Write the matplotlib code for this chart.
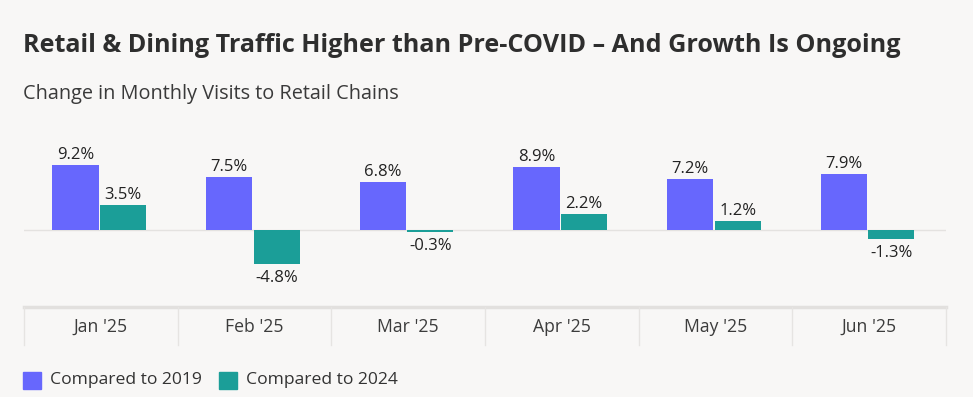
import numpy as np
import matplotlib
matplotlib.use("Agg")
from matplotlib import pyplot as plt
from matplotlib.patches import Rectangle

plt.rcParams['font.family'] = ['Open Sans', 'DejaVu Sans']

# data
months = ["Jan '25", "Feb '25", "Mar '25", "Apr '25", "May '25", "Jun '25"]
vs_2019 = [9.2, 7.5, 6.8, 8.9, 7.2, 7.9]
vs_2024 = [3.5, -4.8, -0.3, 2.2, 1.2, -1.3]
series_names = ["Compared to 2019", "Compared to 2024"]

c_purple = '#6767fd'
c_teal = '#1b9e98'
bg = '#f8f7f6'

W, H = 973, 397
fig = plt.figure(figsize=(W / 100, H / 100), dpi=100, facecolor=bg)

def fx(px):
    return px / W

def fy(py):
    return 1 - py / H

# title / subtitle
fig.text(fx(23), fy(45), "Retail & Dining Traffic Higher than Pre-COVID \u2013 And Growth Is Ongoing",
         fontsize=18.1, fontweight='bold', color='#2e2e2e', va='center', ha='left')
fig.text(fx(23), fy(94), "Change in Monthly Visits to Retail Chains",
         fontsize=14.3, color='#3a3a3a', va='center', ha='left')

# main bars
ax = fig.add_axes([fx(24), fy(307), fx(946) - fx(24), fy(140) - fy(307)])
ax.set_facecolor(bg)
x = np.arange(len(months))
bw = 0.3
off = 0.155
b1 = ax.bar(x - off - 0.01, vs_2019, bw, color=c_purple, zorder=3)
b2 = ax.bar(x + off - 0.01, vs_2024, bw, color=c_teal, zorder=3)
ax.axhline(0, color='#e4e2e0', lw=1, zorder=1)
ax.set_xlim(-0.5, len(months) - 0.5)
ax.set_ylim(-10.85, 12.68)
ax.axis('off')

for bars, vals in [(b1, vs_2019), (b2, vs_2024)]:
    for rect, v in zip(bars, vals):
        cx = rect.get_x() + rect.get_width() / 2
        if v >= 0:
            ax.annotate(f"{v}%", (cx, v), xytext=(0, 1.5), textcoords='offset points',
                        ha='center', va='bottom', fontsize=12, color='#222222')
        else:
            ax.annotate(f"{v}%", (cx, v), xytext=(0, -4), textcoords='offset points',
                        ha='center', va='top', fontsize=12, color='#222222')

# category band
axb = fig.add_axes([fx(24), fy(345), fx(946) - fx(24), fy(307) - fy(345)])
axb.set_facecolor(bg)
axb.set_xlim(-0.5, len(months) - 0.5)
axb.set_ylim(0, 1)
axb.axis('off')
axb.axhline(1, color='#e2e0de', lw=2.5, clip_on=False)
for i in range(len(months) + 1):
    axb.axvline(i - 0.5, color='#e6e4e2', lw=1, clip_on=False)
for i, m in enumerate(months):
    axb.text(i, 0.47, m, ha='center', va='center', fontsize=12.7, color='#3c3c3c')

# legend
lx = 23
for name, col in zip(series_names, [c_purple, c_teal]):
    fig.patches.append(Rectangle((fx(lx), fy(389)), fx(18), fy(372) - fy(389),
                                 transform=fig.transFigure, color=col))
    t = fig.text(fx(lx + 27), fy(380.5), name, fontsize=12.6, color='#333333',
                 va='center', ha='left')
    lx += 196

fig.savefig('out.png', dpi=100, facecolor=bg)
